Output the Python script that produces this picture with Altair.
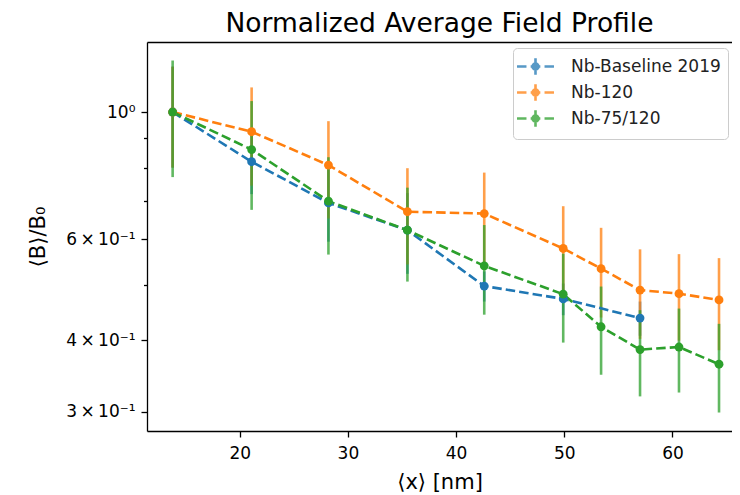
import altair as alt
import pandas as pd

series = ["Nb-Baseline 2019", "Nb-120", "Nb-75/120"]
colors = ["#1f77b4", "#ff7f0e", "#2ca02c"]

x_base = [13.8, 21.1, 28.2, 35.5, 42.6, 49.9, 57.0]
y_base = [1.0, 0.819, 0.694, 0.622, 0.497, 0.472, 0.437]
e_base = [0.20, 0.10, 0.10, 0.10, 0.03, 0.03, 0.03]

x_120 = [13.8, 21.1, 28.2, 35.5, 42.6, 49.9, 53.4, 57.0, 60.6, 64.3]
y_120 = [1.0, 0.924, 0.808, 0.670, 0.665, 0.578, 0.533, 0.489, 0.482, 0.470]
e_120 = [0.20, 0.18, 0.156, 0.128, 0.119, 0.107, 0.095, 0.087, 0.083, 0.086]

x_75 = [13.8, 21.1, 28.2, 35.5, 42.6, 49.9, 53.4, 57.0, 60.6, 64.3]
y_75 = [1.0, 0.860, 0.699, 0.622, 0.539, 0.481, 0.422, 0.385, 0.389, 0.363]
e_75 = [0.23, 0.185, 0.135, 0.116, 0.096, 0.085, 0.074, 0.066, 0.065, 0.064]

x_ticks = [20, 30, 40, 50, 60]
y_ticks = [0.3, 0.4, 0.5, 0.6, 0.7, 0.8, 0.9, 1.0]

rows = []
for k, (name, xs, ys, es) in enumerate(zip(series, [x_base, x_120, x_75],
                                            [y_base, y_120, y_75],
                                            [e_base, e_120, e_75])):
    for x, y, e in zip(xs, ys, es):
        rows.append({"series": name, "k": k, "x": x, "y": y,
                     "lo": y - e, "hi": y + e})
df = pd.DataFrame(rows)

xscale = alt.Scale(domain=[11.43, 65.50], nice=False, zero=False)
yscale = alt.Scale(type="log", domain=[0.2776, 1.325], nice=False)
cscale = alt.Scale(domain=series, range=colors)

xaxis = alt.Axis(values=x_ticks, format="d", title="⟨x⟩ [nm]", grid=False,
                 tickSize=6, tickWidth=1.3, tickColor="#000",
                 domainColor="#000", domainWidth=1.3,
                 labelFontSize=17, labelPadding=8, labelColor="#000",
                 titleFontSize=21, titlePadding=10, titleColor="#000",
                 titleFontWeight="normal", labelFlush=False)

label_expr = ("datum.value == 1 ? '10⁰' : datum.value == 0.6 ? '6\u2009×\u200910⁻¹' : "
              "datum.value == 0.4 ? '4\u2009×\u200910⁻¹' : datum.value == 0.3 ? '3\u2009×\u200910⁻¹' : ''")
yaxis = alt.Axis(values=y_ticks, labelExpr=label_expr, title="⟨B⟩/B₀", grid=False,
                 tickSize={"condition": {"test": "indexof([0.3, 0.4, 0.6, 1], datum.value) >= 0",
                                         "value": 6}, "value": 3.5},
                 tickWidth=1.3, tickColor="#000",
                 domainColor="#000", domainWidth=1.3,
                 labelFontSize=17, labelPadding=6, labelColor="#000",
                 titleFontSize=21, titlePadding=17, titleColor="#000",
                 titleFontWeight="normal", labelFlush=False, labelOverlap=False)

X = alt.X("x:Q", scale=xscale, axis=xaxis)
Xn = alt.X("x:Q", scale=xscale, axis=None)
Y = alt.Y("y:Q", scale=yscale, axis=yaxis)

s = 1.1
legend_path = (
    f"M{-1.68*s},0L{-0.82*s},0M{-0.44*s},0L{0.44*s},0M{0.82*s},0L{1.68*s},0"
    f"M0,{-0.75*s}L0,{0.75*s}"
    f"M{-0.27*s},0A{0.27*s},{0.27*s} 0 1,0 {0.27*s},0A{0.27*s},{0.27*s} 0 1,0 {-0.27*s},0Z"
    f"M{-0.12*s},0A{0.12*s},{0.12*s} 0 1,0 {0.12*s},0A{0.12*s},{0.12*s} 0 1,0 {-0.12*s},0Z"
)

legend = alt.Legend(title=None, orient="none", legendX=366, legendY=6,
                    fillColor="white", strokeColor="#cccccc", cornerRadius=4,
                    padding=7, symbolType=legend_path, symbolSize=400,
                    symbolStrokeWidth=2.6, symbolOffset=4,
                    labelFontSize=17, labelFont="DejaVu Sans",
                    labelColor="#222", labelOffset=24, rowPadding=-1)

color = alt.Color("series:N", scale=cscale, legend=legend)

base = alt.Chart(df)

bars = base.mark_rule(strokeWidth=2.6, opacity=0.75).encode(
    x=X, y=alt.Y("lo:Q", scale=yscale, axis=yaxis), y2="hi:Q",
    color=color,
)

lines = base.mark_line(strokeWidth=2.6, strokeDash=[9.5, 4.1]).encode(
    x=Xn, y=Y, color=color, order=alt.Order("x:Q"),
)

points = base.mark_point(filled=True, size=78, opacity=1).encode(
    x=Xn, y=Y, color=color,
)

top_axis = base.mark_point(opacity=0).encode(
    x=alt.X("x:Q", scale=xscale,
            axis=alt.Axis(orient="top", labels=False, ticks=False, title=None,
                          grid=False, domainColor="#000", domainWidth=1.3)),
    y=Y,
)

chart = alt.layer(bars, lines, points, top_axis).resolve_axis(
    x="independent"
).properties(
    width=585, height=389,
    padding={"left": 19, "top": 2, "right": 0, "bottom": 0},
    title=alt.TitleParams("Normalized Average Field Profile", fontSize=26.5,
                          font="DejaVu Sans", fontWeight="normal", color="#000",
                          anchor="middle", offset=5),
).configure(font="DejaVu Sans").configure_view(stroke=None)

chart.save("out.html", embed_options={"renderer": "svg", "actions": False})
